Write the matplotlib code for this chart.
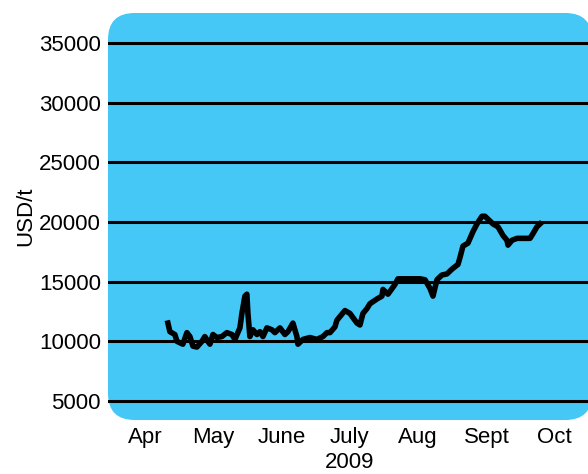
import matplotlib.pyplot as plt
from matplotlib.patches import FancyBboxPatch

plt.rcParams['font.family'] = ['Liberation Sans', 'DejaVu Sans']

# months after start of April (0 = Apr, 1 = May, ...)
t = [0.337, 0.366, 0.439, 0.469, 0.556, 0.615, 0.659, 0.703, 0.761, 0.835,
     0.878, 0.922, 0.952, 0.996, 1.054, 1.127, 1.2, 1.274, 1.318, 1.391,
     1.42, 1.464, 1.493, 1.508, 1.537, 1.581, 1.64, 1.684, 1.728, 1.786,
     1.859, 1.903, 1.977, 2.05, 2.094, 2.167, 2.225, 2.24, 2.313, 2.416,
     2.518, 2.606, 2.665, 2.709, 2.782, 2.811, 2.928, 3.001, 3.104, 3.148,
     3.192, 3.25, 3.294, 3.397, 3.47, 3.485, 3.558, 3.66, 3.704, 3.836,
     3.953, 4.026, 4.1, 4.173, 4.217, 4.275, 4.348, 4.422, 4.495, 4.583,
     4.612, 4.656, 4.729, 4.802, 4.861, 4.934, 4.978, 5.095, 5.168, 5.242,
     5.3, 5.315, 5.373, 5.447, 5.637, 5.681, 5.739, 5.783]
price = [11530, 10810, 10570, 10000, 9760, 10730, 10400, 9600, 9520, 10000,
         10400, 10000, 9760, 10570, 10320, 10400, 10730, 10570, 10160, 11130,
         12340, 13790, 13950, 12340, 10400, 10970, 10570, 10810, 10400, 11130,
         10970, 10730, 11130, 10570, 10810, 11530, 10400, 9760, 10160, 10320,
         10160, 10400, 10730, 10730, 11210, 11770, 12580, 12340, 11530, 11370,
         12340, 12740, 13150, 13550, 13790, 14350, 13950, 14760, 15240, 15240,
         15240, 15240, 15160, 14440, 13790, 15160, 15560, 15650, 16050, 16450,
         17020, 17980, 18230, 19190, 19840, 20480, 20480, 19840, 19600, 18870,
         18470, 18060, 18470, 18630, 18630, 19030, 19600, 19840]

months = ['Apr', 'May', 'June', 'July', 'Aug', 'Sept', 'Oct']
yticks = [5000, 10000, 15000, 20000, 25000, 30000, 35000]

fig = plt.figure(figsize=(5.88, 4.74), dpi=100)
# axes area in pixels: x 108..592, y 13..420
ax = fig.add_axes([108 / 588, (474 - 420) / 474, 484 / 588, 407 / 474])
ax.patch.set_visible(False)

# rounded blue background
bg = FancyBboxPatch((0, 0), 1, 1, boxstyle='round,pad=0,rounding_size=0.055',
                    mutation_aspect=484 / 407, transform=ax.transAxes,
                    facecolor='#45c8f5', edgecolor='none', zorder=0, clip_on=False)
ax.add_patch(bg)

for v in yticks:
    ax.axhline(v, color='black', linewidth=2.2, zorder=1)

ax.plot(t, price, color='black', linewidth=4, solid_joinstyle='round', zorder=2)

ax.set_xlim(-0.54, (592 - 145) / 68.3)
ax.set_ylim(3408, 37514)
ax.set_xticks(range(len(months)))
ax.set_xticklabels(months)
ax.set_yticks(yticks)
ax.tick_params(length=0, labelsize=16, pad=5)
ax.tick_params(axis='x', pad=5)
for s in ax.spines.values():
    s.set_visible(False)

ax.set_xlabel('2009', fontsize=16, labelpad=3)
ax.set_ylabel('USD/t', fontsize=16, labelpad=2)

fig.savefig('out.png', dpi=100)
